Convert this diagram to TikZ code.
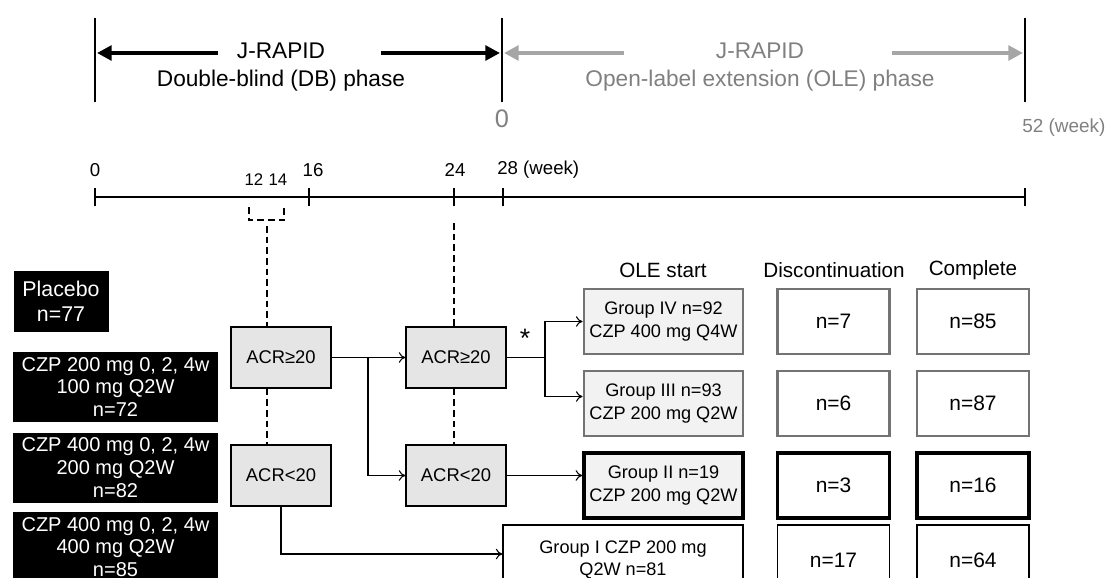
\documentclass[tikz,border=0pt]{standalone}
\usepackage{fontspec}
\setmainfont{Liberation Sans}
\usetikzlibrary{arrows.meta,calc}

\definecolor{acrfill}{gray}{0.9}
\definecolor{grpfill}{gray}{0.95}
\definecolor{edgegray}{gray}{0.45}
\definecolor{olegray}{gray}{0.5}

\begin{document}
\begin{tikzpicture}
[x=0.75pt,y=-0.75pt,
 every node/.style={inner sep=0pt},
 wk/.style={font=\fontsize{14}{16}\selectfont},
 phase/.style={align=center,font=\fontsize{17}{21}\selectfont},
 armbox/.style={fill=black,text=white,align=center,font=\fontsize{15}{17.2}\selectfont},
 acrbox/.style={draw,fill=acrfill,line width=0.9pt,minimum width=75pt,minimum height=45.75pt,font=\fontsize{13.8}{16}\selectfont},
 grpbox/.style={draw,align=center,minimum width=119.25pt,minimum height=48.75pt,font=\fontsize{13.6}{17}\selectfont},
 numbox/.style={draw,minimum width=84pt,minimum height=48.75pt,font=\fontsize{15.7}{18}\selectfont},
 greyedge/.style={draw=edgegray,line width=2.2pt},
 blackedge/.style={line width=2.6pt},
 thinedge/.style={line width=0.8pt},
 flow/.style={-{To[length=5pt,width=8pt]},line width=0.8pt},
 link/.style={line width=1.1pt,dash pattern=on 5pt off 3pt},
 dbarrow/.style={line width=3pt,-{Triangle[length=11pt,width=11pt]}},
 olearrow/.style={line width=3pt,olegray!70,-{Triangle[length=11pt,width=11pt]}}]

\clip (0,0) rectangle (1107,578);

% phases
\draw[line width=1.4pt] (95,18) -- (95,102);
\draw[line width=1.4pt] (502,18) -- (502,102);
\draw[line width=1.4pt] (1025,18) -- (1025,102);
\node[phase] (dbphase) at (281,67) {J-RAPID\\Double-blind (DB) phase};
\node[phase,text=olegray] (olephase) at (760,67) {J-RAPID\\Open-label extension (OLE) phase};
\coordinate (dbL) at (97,53);
\coordinate (dbR) at (500,53);
\coordinate (oleL) at (504,53);
\coordinate (oleR) at (1023,53);
\draw[dbarrow] (218,53) -- (dbL);
\draw[dbarrow] (381,53) -- (dbR);
\draw[olearrow] (624,53) -- (oleL);
\draw[olearrow] (892,53) -- (oleR);
\node[font=\fontsize{19}{22}\selectfont,text=olegray] (ole0) at (502,119) {0};
\node[font=\fontsize{14.2}{17}\selectfont,text=olegray,anchor=west] (ole52) at (1022,128) {52 (week)};

% time line
\draw[line width=1.5pt] (95,197) -- (1025,197);
\foreach \x in {95,309,454,503,1025}
  \draw[line width=1.5pt] (\x,188) -- (\x,206);
\node[wk] (w0) at (95,170) {0};
\node[wk] (w16) at (313,170) {16};
\node[wk] (w24) at (455,170) {24};
\node[wk,anchor=west] (w28) at (497,170) {28 (week)};
\node[font=\fontsize{12.6}{15}\selectfont] (w12) at (254,180) {12};
\node[font=\fontsize{12.6}{15}\selectfont] (w14) at (278,180) {14};
\draw[link] (249,207) -- (249,220) -- (284,220) -- (284,207);
\coordinate (brk) at (267,226);
\coordinate (t24) at (454,223);

% arms
\node[armbox,minimum width=71.25pt,minimum height=45.75pt,font=\fontsize{16}{19}\selectfont] (plac) at (61,301) {Placebo\\n=77};
\node[armbox,minimum width=153.75pt,minimum height=52.5pt] (arm1) at (115.5,387) {CZP 200 mg 0, 2, 4w\\100 mg Q2W\\n=72};
\node[armbox,minimum width=153.75pt,minimum height=52.5pt] (arm2) at (115.5,468) {CZP 400 mg 0, 2, 4w\\200 mg Q2W\\n=82};
\node[armbox,minimum width=153.75pt,minimum height=52.5pt,font=\fontsize{15}{16.6}\selectfont] (arm3) at (115.5,547) {CZP 400 mg 0, 2, 4w\\400 mg Q2W\\n=85};

% ACR20 response
\node[acrbox] (acrA1) at (281,357.5) {ACR≥20};
\node[acrbox] (acrB1) at (281,475.5) {ACR<20};
\node[acrbox] (acrA2) at (456,357.5) {ACR≥20};
\node[acrbox] (acrB2) at (456,475.5) {ACR<20};

\draw[link] (brk) -- (brk |- acrA1.north);
\draw[link] (brk |- acrA1.south) -- (brk |- acrB1.north);
\draw[link] (t24) -- (t24 |- acrA2.north);
\draw[link] (t24 |- acrA2.south) -- (t24 |- acrB2.north);

% OLE columns
\node[font=\fontsize{15.5}{18}\selectfont] (hstart) at (663,270) {OLE start};
\node[font=\fontsize{15.5}{18}\selectfont] (hdisc) at (834,270) {Discontinuation};
\node[font=\fontsize{15.5}{18}\selectfont] (hcomp) at (973,270) {Complete};

\node[grpbox,greyedge,fill=grpfill] (g4) at (663.5,321.5) {Group IV n=92\\CZP 400 mg Q4W};
\node[grpbox,greyedge,fill=grpfill] (g3) at (663.5,403.5) {Group III n=93\\CZP 200 mg Q2W};
\node[grpbox,blackedge,fill=grpfill] (g2) at (663.5,485.5) {Group II n=19\\CZP 200 mg Q2W};
\node[grpbox,thinedge,minimum width=180pt,minimum height=52.5pt] (g1) at (623,560) {Group I CZP 200 mg\\Q2W n=81};

\node[numbox,greyedge] (d4) at (833.5,321.5) {n=7};
\node[numbox,greyedge] (d3) at (833.5,403.5) {n=6};
\node[numbox,blackedge] (d2) at (833.5,485.5) {n=3};
\node[numbox,thinedge,minimum height=52.5pt] (d1) at (833.5,560) {n=17};
\node[numbox,greyedge] (c4) at (973,321.5) {n=85};
\node[numbox,greyedge] (c3) at (973,403.5) {n=87};
\node[numbox,blackedge] (c2) at (973,485.5) {n=16};
\node[numbox,thinedge,minimum height=52.5pt] (c1) at (973,560) {n=64};

% flows
\coordinate (split1) at (368,357.5);
\coordinate (split2) at (545,357.5);
\draw[flow] (acrA1.east) -- (acrA2.west);
\draw[flow] (split1) |- (acrB2.west);
\draw[line width=0.8pt] (acrA2.east) -- (split2);
\node[font=\fontsize{20}{22}\selectfont] (star) at (525,338) {*};
\draw[flow] (split2) |- (g4.west);
\draw[flow] (split2) |- ($(g3.west)+(0,-7)$);
\draw[flow] (acrB2.east) -- (acrB2.east -| g2.west);
\draw[flow] (acrB1.south) |- ($(g1.west)+(0,-6)$);
\end{tikzpicture}
\end{document}
